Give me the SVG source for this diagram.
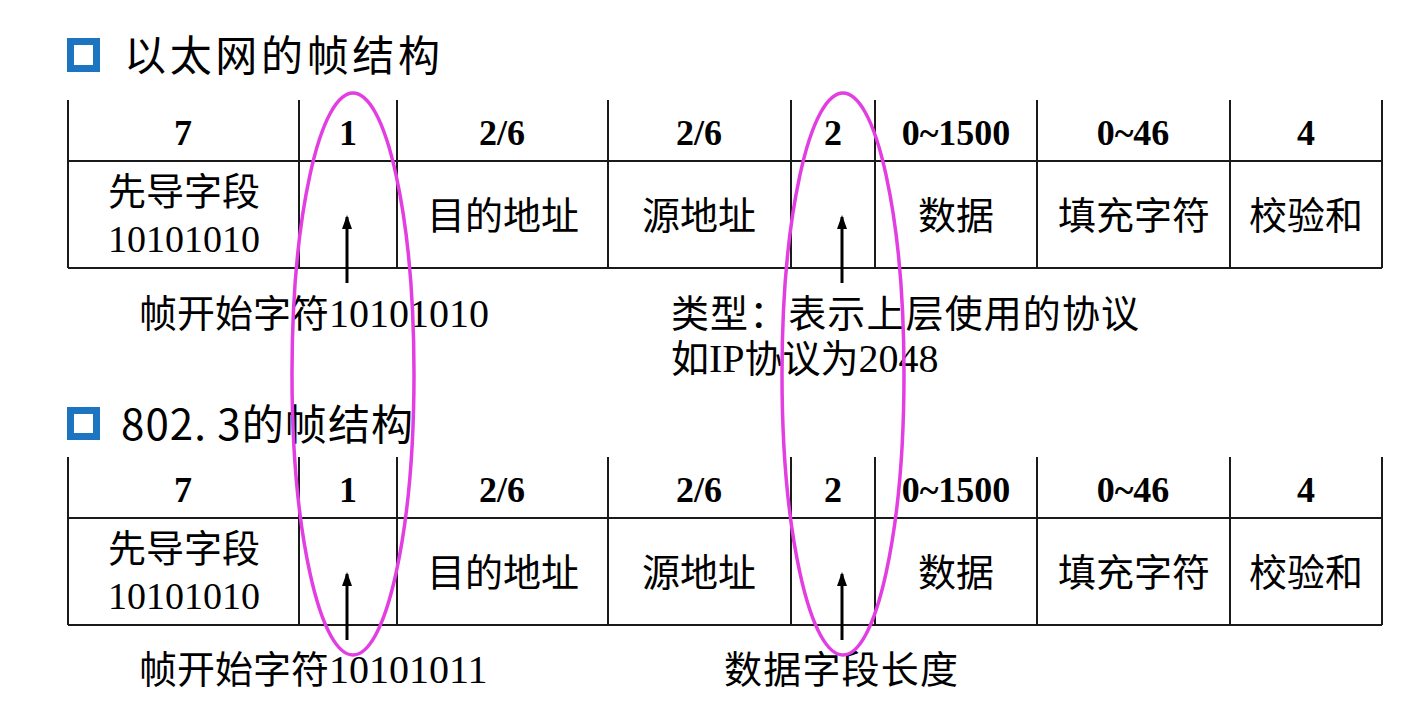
<svg xmlns="http://www.w3.org/2000/svg" width="1427" height="707" viewBox="0 0 1427 707">
<defs>
<style>
.ln{stroke:#1a1a1a;stroke-width:2;fill:none}
.hd{font-family:"Liberation Serif",serif;font-weight:bold;font-size:36px;text-anchor:middle;fill:#000}
.cj{font-family:"Noto Sans CJK SC",sans-serif;font-size:38px;text-anchor:middle;fill:#000}
.num{font-family:"Liberation Serif",serif;font-size:38px;fill:#000}
.lb{font-family:"Noto Sans CJK SC",sans-serif;font-size:38px;fill:#000}
.ser{font-family:"Liberation Serif",serif;font-size:40px}
.tt{font-family:"Noto Sans CJK SC",sans-serif;font-size:42px;fill:#000}
.arr{stroke:#000;stroke-width:3;fill:none}
.ell{stroke:#e23ee2;stroke-width:3.5;fill:none}
.sq{fill:#fff;stroke:#1d74c1;stroke-width:7}
</style>
<marker id="ah" viewBox="0 0 14 10" refX="12" refY="5" markerWidth="14" markerHeight="10" markerUnits="userSpaceOnUse" orient="auto">
<path d="M0,0 L14,5 L0,10 Z" fill="#000"/>
</marker>
<g id="tbl">
<line class="ln" x1="68" y1="100" x2="68" y2="268"/>
<line class="ln" x1="299" y1="100" x2="299" y2="268"/>
<line class="ln" x1="397" y1="100" x2="397" y2="268"/>
<line class="ln" x1="608" y1="100" x2="608" y2="268"/>
<line class="ln" x1="791" y1="100" x2="791" y2="268"/>
<line class="ln" x1="875" y1="100" x2="875" y2="268"/>
<line class="ln" x1="1037" y1="100" x2="1037" y2="268"/>
<line class="ln" x1="1230" y1="100" x2="1230" y2="268"/>
<line class="ln" x1="1382" y1="100" x2="1382" y2="268"/>
<line class="ln" x1="68" y1="161" x2="1382" y2="161"/>
<line class="ln" x1="68" y1="268" x2="1382" y2="268"/>
<text class="hd" x="183" y="145">7</text>
<text class="hd" x="348" y="145">1</text>
<text class="hd" x="502" y="145">2/6</text>
<text class="hd" x="699" y="145">2/6</text>
<text class="hd" x="833" y="145">2</text>
<text class="hd" x="956" y="145">0~1500</text>
<text class="hd" x="1133" y="145">0~46</text>
<text class="hd" x="1306" y="145">4</text>
<text class="cj" x="184" y="205">先导字段</text>
<text class="num" x="184" y="252" text-anchor="middle">10101010</text>
<text class="cj" x="503" y="229">目的地址</text>
<text class="cj" x="699" y="229">源地址</text>
<text class="cj" x="956" y="229">数据</text>
<text class="cj" x="1134" y="229">填充字符</text>
<text class="cj" x="1306" y="229">校验和</text>
</g>
</defs>

<g id="title1">
<rect class="sq" x="70.5" y="41.5" width="26" height="27"/>
<text class="tt" x="124" y="71" textLength="316" lengthAdjust="spacing">以太网的帧结构</text>
</g>

<g id="frame-ethernet">
<use href="#tbl"/>
</g>

<g id="title2">
<rect class="sq" x="70.5" y="410.5" width="26" height="26"/>
<text class="tt" x="121" y="440" textLength="292" lengthAdjust="spacing">802. 3的帧结构</text>
</g>

<g id="frame-8023">
<use href="#tbl" transform="translate(0,357)"/>
</g>

<g id="labels">
<text class="lb" x="139" y="327">帧开始字符<tspan class="ser">10101010</tspan></text>
<text class="lb" x="671" y="327" textLength="468" lengthAdjust="spacing">类型：表示上层使用的协议</text>
<text class="lb" x="671" y="372">如<tspan class="ser">IP</tspan>协议为<tspan class="ser">2048</tspan></text>
<text class="lb" x="139" y="683">帧开始字符<tspan class="ser">10101011</tspan></text>
<text class="lb" x="724" y="683" textLength="234" lengthAdjust="spacing">数据字段长度</text>
</g>

<g id="connectors">
<line class="arr" x1="347" y1="283" x2="347" y2="217" marker-end="url(#ah)"/>
<line class="arr" x1="842" y1="283" x2="842" y2="217" marker-end="url(#ah)"/>
<line class="arr" x1="347" y1="640" x2="347" y2="574" marker-end="url(#ah)"/>
<line class="arr" x1="842" y1="640" x2="842" y2="574" marker-end="url(#ah)"/>
</g>

<g id="highlights">
<ellipse class="ell" cx="353" cy="374" rx="61" ry="281"/>
<ellipse class="ell" cx="843" cy="374" rx="61" ry="281"/>
</g>
</svg>
